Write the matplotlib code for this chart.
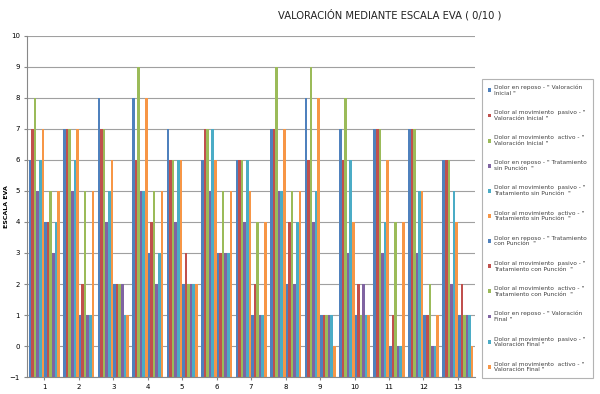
import matplotlib
matplotlib.use("Agg")
import matplotlib.pyplot as plt
import numpy as np

# pacientes 1-13, escala EVA (0/10)
pacientes = ['1', '2', '3', '4', '5', '6', '7', '8', '9', '10', '11', '12', '13']

reposo_vi = [6, 7, 8, 8, 7, 6, 6, 7, 8, 7, 7, 7, 6]
pasivo_vi = [7, 7, 7, 6, 6, 7, 6, 7, 6, 6, 7, 7, 6]
activo_vi = [8, 7, 7, 9, 6, 7, 6, 9, 9, 8, 7, 7, 6]
reposo_sp = [5, 5, 4, 5, 4, 5, 4, 5, 4, 3, 3, 3, 2]
pasivo_sp = [6, 6, 5, 5, 6, 7, 6, 5, 5, 6, 4, 5, 5]
activo_sp = [7, 7, 6, 8, 6, 6, 5, 7, 8, 4, 6, 5, 4]
reposo_cp = [4, 1, 2, 3, 2, 3, 1, 2, 1, 1, 0, 1, 1]
pasivo_cp = [4, 2, 2, 4, 3, 3, 2, 4, 1, 2, 1, 1, 2]
activo_cp = [5, 5, 2, 5, 2, 5, 4, 5, 1, 1, 4, 2, 1]
reposo_vf = [3, 1, 2, 2, 2, 3, 1, 2, 1, 2, 0, 0, 1]
pasivo_vf = [4, 1, 1, 3, 2, 3, 1, 4, 1, 1, 0, 0, 1]
activo_vf = [5, 5, 1, 5, 2, 5, 4, 5, 0, 1, 4, 1, 0]

etiquetas = [
    'Dolor en reposo - " Valoración\nInicial "',
    'Dolor al movimiento  pasivo - "\nValoración Inicial "',
    'Dolor al movimiento  activo - "\nValoración Inicial "',
    'Dolor en reposo - " Tratamiento\nsin Punción  "',
    'Dolor al movimiento  pasivo - "\nTratamiento sin Punción  "',
    'Dolor al movimiento  activo - "\nTratamiento sin Punción  "',
    'Dolor en reposo - " Tratamiento\ncon Punción  "',
    'Dolor al movimiento  pasivo - "\nTratamiento con Punción  "',
    'Dolor al movimiento  activo - "\nTratamiento con Punción  "',
    'Dolor en reposo - " Valoración\nFinal "',
    'Dolor al movimiento  pasivo - "\nValoración Final "',
    'Dolor al movimiento  activo - "\nValoración Final "',
]

series = [reposo_vi, pasivo_vi, activo_vi, reposo_sp, pasivo_sp, activo_sp,
          reposo_cp, pasivo_cp, activo_cp, reposo_vf, pasivo_vf, activo_vf]
colores = ['#4F81BD', '#C0504D', '#9BBB59', '#8064A2', '#4BACC6', '#F79646'] * 2

fig = plt.figure(figsize=(6, 3.94), dpi=100)
ax = fig.add_axes([0.045, 0.043, 0.747, 0.866])

x = np.arange(1, len(pacientes) + 1)
n = len(series)
ancho = 0.9 / n
base = -1
for i, vals in enumerate(series):
    pos = x - 0.45 + ancho * (i + 0.5)
    ax.bar(pos, np.array(vals) - base, ancho, bottom=base, color=colores[i],
           label=etiquetas[i], linewidth=0, zorder=2)

ax.set_xlim(0.5, 13.5)
ax.set_ylim(-1, 10)
ax.set_yticks(range(-1, 11))
ax.set_xticks(x)
ax.set_xticklabels(pacientes)
ax.tick_params(labelsize=5, length=2, color='#888888', pad=3)
ax.grid(axis='y', color='#A0A0A0', linewidth=0.8, zorder=0)
for s in ['top', 'right']:
    ax.spines[s].set_visible(False)
for s in ['left', 'bottom']:
    ax.spines[s].set_color('#888888')
    ax.spines[s].set_linewidth(0.8)

ax.set_ylabel('ESCALA EVA', fontsize=4.5, fontweight='bold')
ax.yaxis.set_label_coords(-0.04, 0.5)

fig.text(0.65, 0.962, 'VALORACIÓN MEDIANTE ESCALA EVA ( 0/10 )', fontsize=7.2,
         ha='center', va='center', color='#222222')

leg = fig.legend(loc='upper left', bbox_to_anchor=(0.803, 0.80), fontsize=4.2,
                 frameon=True, fancybox=False, edgecolor='#A0A0A0',
                 handlelength=0.6, handleheight=0.6, handletextpad=0.5,
                 labelspacing=2.45, borderpad=1.0, borderaxespad=0)
leg.get_frame().set_linewidth(0.8)
for t in leg.get_texts():
    t.set_color('#404040')

plt.savefig('out.png', dpi=100)
